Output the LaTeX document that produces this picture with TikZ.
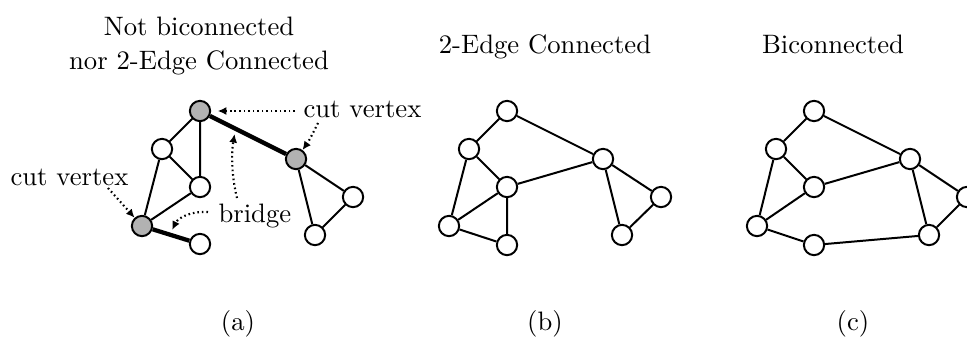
\documentclass[tikz,border=0pt]{standalone}
\usetikzlibrary{arrows.meta,calc}
\begin{document}
\begin{tikzpicture}[x=0.375pt,y=-0.375pt,
  vtx/.style={circle,draw,line width=0.75pt,fill=white,minimum size=7.6pt,inner sep=0pt},
  cutv/.style={vtx,fill=gray!60},
  edge/.style={line width=0.75pt},
  bridgeedge/.style={line width=1.6pt},
  pointer/.style={line width=0.8pt,dash pattern=on 0.6pt off 1.1pt,
    -{Latex[length=3.2pt,width=3pt]}},
  lbl/.style={font=\fontsize{10}{12}\selectfont,inner sep=0pt}]
\useasboundingbox (0,0) rectangle (967,339);

% ---------- titles and captions ----------
\node[lbl,anchor=base] (ta1) at (199,35) {Not biconnected};
\node[lbl,anchor=base] (ta2) at (199,69) {nor 2-Edge Connected};
\node[lbl,anchor=base] (tb) at (545,53) {2-Edge Connected};
\node[lbl,anchor=base] (tc) at (833,53) {Biconnected};
\node[lbl,anchor=base] (capa) at (238,330) {(a)};
\node[lbl,anchor=base] (capb) at (545,330) {(b)};
\node[lbl,anchor=base] (capc) at (853,330) {(c)};

% ---------- graph (a): neither biconnected nor 2-edge connected ----------
\node[cutv] (aT)  at (200,111) {};
\node[vtx]  (aL)  at (162,149) {};
\node[vtx]  (aM)  at (200,187) {};
\node[cutv] (aC)  at (142,226) {};
\node[vtx]  (aB)  at (200,244) {};
\node[cutv] (aR)  at (296,159) {};
\node[vtx]  (aR2) at (353,197) {};
\node[vtx]  (aR3) at (315,235) {};
\draw[edge] (aT) -- (aL) (aT) -- (aM) (aL) -- (aM) (aL) -- (aC) (aM) -- (aC)
            (aR) -- (aR2) (aR) -- (aR3) (aR2) -- (aR3);
\draw[bridgeedge] (aT) -- (aR) (aC) -- (aB);

% annotations
\node[lbl,anchor=base west] (cv1) at (303,117) {cut vertex};
\node[lbl,anchor=base west] (cv2) at (10,185) {cut vertex};
\node[lbl,anchor=base west] (br) at (218,222) {bridge};
\coordinate (cv1a) at (295,111);
\coordinate (cv1b) at (318,123);
\coordinate (cv2a) at (108,188);
\coordinate (bra) at (237,198);
\coordinate (brb) at (208,212);
\coordinate (bre1) at ($(aT)!0.37!(aR)$);
\coordinate (bre2) at ($(aC)!0.48!(aB)$);
\draw[pointer,shorten >=2.5pt] (cv1a) -- (aT);
\draw[pointer] (cv1b) .. controls (313,133) and (309,141) .. (aR);
\draw[pointer] (cv2a) -- (aC);
\draw[pointer,shorten >=2pt] (bra) .. controls (232,178) and (231,155) .. (bre1);
\draw[pointer,shorten >=2pt] (brb) .. controls (190,211) and (178,218) .. (bre2);

% ---------- graph (b): 2-edge connected ----------
\node[vtx] (bT)  at (507,111) {};
\node[vtx] (bL)  at (469,149) {};
\node[vtx] (bM)  at (507,187) {};
\node[vtx] (bC)  at (449,226) {};
\node[vtx] (bB)  at (507,245) {};
\node[vtx] (bR)  at (603,159) {};
\node[vtx] (bR2) at (661,197) {};
\node[vtx] (bR3) at (622,235) {};
\draw[edge] (bT) -- (bL) (bT) -- (bR) (bL) -- (bM) (bL) -- (bC) (bM) -- (bC)
            (bM) -- (bB) (bC) -- (bB) (bM) -- (bR)
            (bR) -- (bR2) (bR) -- (bR3) (bR2) -- (bR3);

% ---------- graph (c): biconnected ----------
\node[vtx] (cT)  at (814,111) {};
\node[vtx] (cL)  at (776,149) {};
\node[vtx] (cM)  at (814,187) {};
\node[vtx] (cC)  at (757,226) {};
\node[vtx] (cB)  at (814,245) {};
\node[vtx] (cR)  at (910,159) {};
\node[vtx] (cR2) at (967,197) {};
\node[vtx] (cR3) at (929,235) {};
\draw[edge] (cT) -- (cL) (cT) -- (cR) (cL) -- (cM) (cL) -- (cC) (cM) -- (cC)
            (cM) -- (cR) (cC) -- (cB) (cB) -- (cR3)
            (cR) -- (cR2) (cR) -- (cR3) (cR2) -- (cR3);
\end{tikzpicture}
\end{document}
